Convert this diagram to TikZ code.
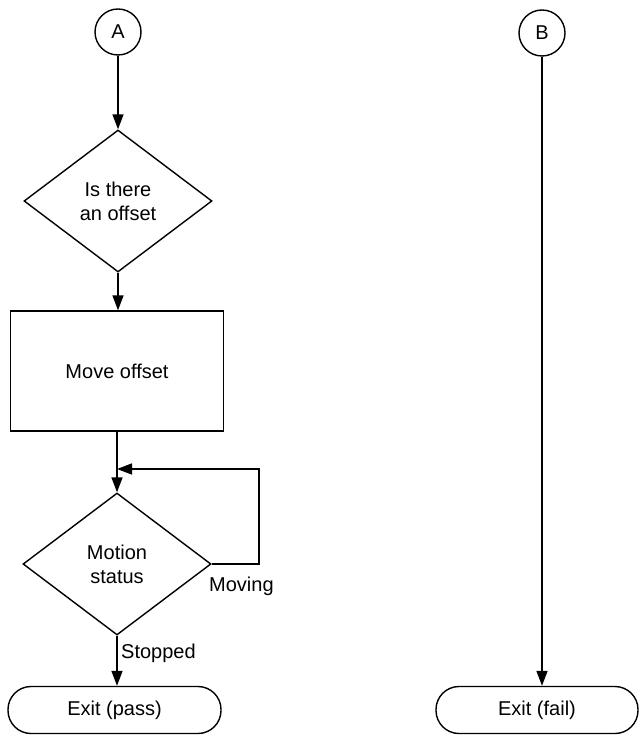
\documentclass[tikz,border=0pt]{standalone}
\usepackage{fontspec}
\setmainfont{Liberation Sans}
\usetikzlibrary{shapes.geometric,arrows.meta}
\begin{document}
\begin{tikzpicture}[x=1pt,y=-1pt,
  every node/.style={font=\fontsize{20}{24}\selectfont, align=center},
  conn/.style={circle, draw, line width=1.4pt, minimum size=46pt, inner sep=0pt},
  decision/.style={diamond, draw, line width=1.4pt, minimum width=188pt, minimum height=142pt, inner sep=0pt},
  process/.style={rectangle, draw, line width=1.4pt, minimum width=213pt, minimum height=120pt},
  terminal/.style={rectangle, rounded corners=23pt, draw, line width=1.4pt, minimum height=47pt},
  flow/.style={line width=1.6pt, -{Triangle[width=11pt,length=15pt]}},
  lbl/.style={inner sep=0pt}
]
\useasboundingbox (0,0) rectangle (638,735);
\node[conn] (A) at (118,32) {A};
\node[decision] (d1) at (118,201) {Is there\\an offset};
\node[process] (p1) at (117,371) {Move offset};
\node[decision] (d2) at (117,564) {Motion\\status};
\node[terminal, minimum width=213pt] (ep) at (114.5,710) {Exit (pass)};
\node[conn] (B) at (542,33) {B};
\node[terminal, minimum width=202pt] (ef) at (537,710) {Exit (fail)};

\coordinate (j) at (117,469);
\coordinate (lr) at (259,564);
\coordinate (ur) at (259,469);

\draw[flow] (A) -- (d1);
\draw[flow] (d1.south) -- (d1.south |- p1.north);
\draw[flow] (p1.south) -- (d2.north);
\draw[flow] (d2.east) -- (lr) -- (ur) -- (j);
\draw[flow] (d2.south) -- (d2.south |- ep.north);
\draw[flow] (B) -- (B |- ef.north);

\node[lbl, anchor=base west] (mv) at (209,591) {Moving};
\node[lbl, anchor=base west] (st) at (121,658) {Stopped};
\end{tikzpicture}
\end{document}
